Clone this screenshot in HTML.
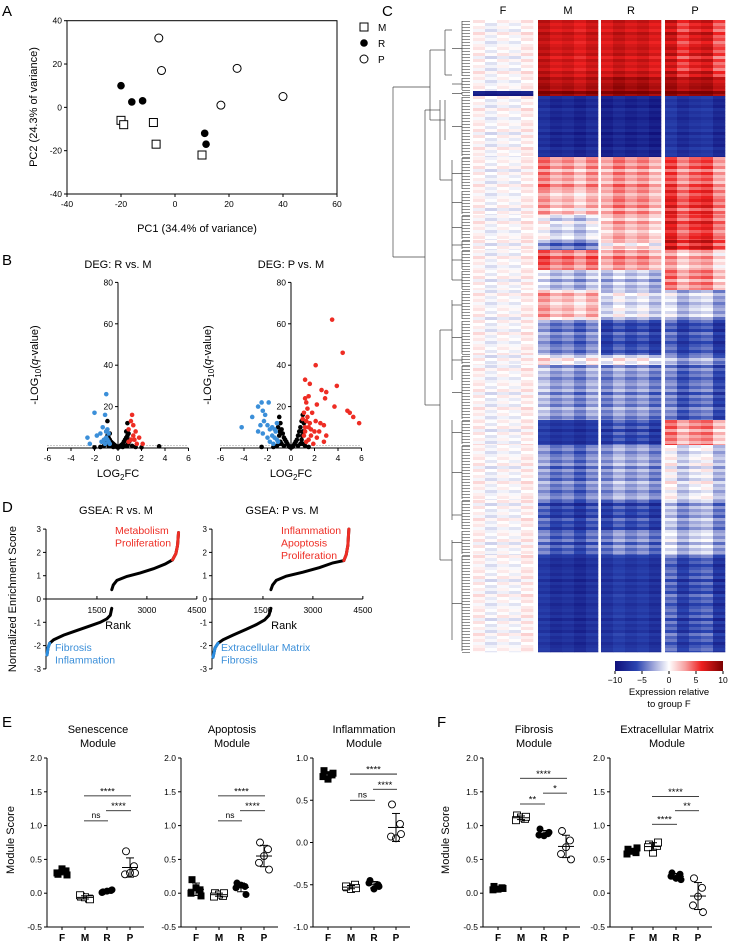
<!DOCTYPE html>
<html><head><meta charset="utf-8"><style>
body{margin:0;background:#fff}
svg{display:block;font-family:"Liberation Sans",sans-serif}
</style></head><body>
<svg id="fig" width="729" height="944" viewBox="0 0 729 944">
<g id="A"></g>
<g id="B"></g>
<g id="C"></g>
<g id="D"></g>
<g id="E"></g>
</svg>
<script>
// ---------- DATA ----------
const pcaM=[[-20,-6],[-19,-8],[-8,-7],[-7,-17],[10,-22]];
const pcaR=[[-20,10],[-16,2.5],[-12,3],[11,-12],[11.5,-17]];
const pcaP=[[-6,32],[-5,17],[17,1],[23,18],[40,5]];

const volRblue=[[-1.0,26],[-2.0,17],[-1.1,16],[-1.3,10],[-0.9,9],[-1.0,8],[-0.8,7],[-2.6,5],[-1.8,6],[-2.4,2],[-1.2,4],[-1.4,3],[-0.9,4],[-1.1,2],[-0.8,3],[-1.5,7],[-1.0,5],[-0.7,2]];
const volRred=[[1.2,16],[1.1,13],[1.3,11],[0.9,9],[1.5,8],[1.8,5],[1.1,4],[1.4,4],[2.1,2],[0.9,3],[1.6,2],[1.3,6]];
const volRblack=[[-1.0,8],[-0.9,6],[-0.8,5],[-0.7,4],[-0.6,3],[-0.5,2.5],[-0.4,2],[-0.3,1.5],[-0.2,1],[-0.1,0.5],[0,0.2],[0.1,0.5],[0.2,1],[0.3,1.5],[0.4,2],[0.5,3],[0.6,4],[0.7,5],[0.8,6],[0.9,7],[-0.9,13],[0.8,12],[3.5,0.8],[-1.2,1],[-1.5,0.5],[-0.8,1],[0.8,1],[1.2,1],[1.5,0.5],[-0.6,1],[0.6,1],[-0.4,0.5],[0.4,0.5],[-0.95,3],[0.95,3],[-0.85,2],[0.85,2],[-1.0,4],[1.0,4],[-2.0,0.3],[2.0,0.3],[-0.7,7],[0.7,8]];
const volPblue=[[-4.2,10],[-2.5,22],[-2.8,20],[-2.4,18],[-3.3,15],[-1.9,22],[-2.2,16],[-2.3,13],[-2.6,11],[-2.0,11],[-1.8,9],[-2.8,8],[-2.4,7],[-1.6,6],[-1.4,5],[-1.8,3],[-1.2,4],[-1.5,2],[-2.0,5],[-1.3,8],[-1.1,3],[-1.6,10],[-1.2,12],[-1.4,9]];
const volPred=[[3.5,62],[4.4,46],[2.1,40],[3.9,30],[1.2,33],[2.6,28],[3.0,27],[1.6,31],[2.9,24],[1.5,25],[1.2,24],[2.2,21],[3.7,20],[4.8,18],[1.3,22],[5.0,17],[5.3,15],[1.8,17],[1.4,15],[2.5,12],[2.1,13],[2.8,11],[1.6,12],[1.2,10],[2.0,8],[2.4,8],[3.0,6],[1.7,6],[1.1,6],[2.8,3],[1.5,4],[1.3,3],[1.9,2],[5.8,12],[1.0,14],[1.4,19],[1.7,9],[2.2,5],[1.2,8],[1.1,17],[1.3,13],[1.5,10]];
const volPblack=[[-1.0,15],[-0.9,12],[-0.8,9],[-0.7,7],[-0.6,5],[-0.5,4],[-0.4,3],[-0.3,2],[-0.2,1],[-0.1,0.5],[0,0.2],[0.1,0.5],[0.2,1],[0.3,2],[0.4,3],[0.5,4],[0.6,6],[0.7,8],[0.8,10],[0.9,13],[1.0,16],[-1.1,10],[1.1,12],[-1.0,6],[1.0,8],[-0.9,3],[0.9,4],[-1.2,1],[1.2,1],[-2.5,0.5],[-0.8,2],[0.8,2],[-0.6,1],[0.6,1],[1.0,2],[-1.0,2],[0.95,6],[-0.95,8],[1.5,0.5],[-1.5,0.5]];

const gseaRneg=[[0,-2.4],[30,-2.1],[80,-1.9],[200,-1.75],[500,-1.55],[900,-1.35],[1300,-1.15],[1600,-1.0],[1800,-0.85],[1900,-0.7],[1945,-0.4]];
const gseaRpos=[[1945,0.4],[1990,0.6],[2100,0.8],[2400,0.97],[2800,1.12],[3200,1.3],[3550,1.5],[3770,1.68],[3870,1.95],[3920,2.3],[3950,2.85]];
const gseaPneg=[[0,-2.5],[60,-2.1],[150,-1.9],[300,-1.75],[600,-1.55],[1000,-1.3],[1300,-1.1],[1550,-0.9],[1680,-0.7],[1740,-0.4]];
const gseaPpos=[[1740,0.4],[1790,0.6],[1900,0.8],[2200,0.98],[2700,1.15],[3200,1.35],[3600,1.55],[3930,1.65],[4000,1.9],[4050,2.3],[4080,3.0]];

// heatmap blocks: yStart, yEnd, F, M, R, P
const hmBlocks=[[20,77,0,7,7,6],[77,91,0,8,8.5,8],[91,96,-9,9.5,9.5,9.5],[96,157,0,-8,-8.5,-7.5],[157,190,0,3,3,4],[190,215,0,2,3,5],[215,240,0,-1,2,5],[240,250,0,-4,1,6],[250,270,0,4,3,2],[270,290,0,-2,-2,3],[290,320,0,2,-1,-2],[320,355,0,-4,-6,-6],[355,365,0,0.5,0,-3],[365,420,0,-3,-3.5,-5],[420,445,0,-7,-6,3],[445,500,0,-4,-3,-1],[500,530,0,-6,-6,-3],[530,555,0,-5,-4,-2],[555,652,0,-7.5,-7,-6]];
const hmRowVar=[0.8,-0.6,0.3,-1.0,1.2,-0.2,0.5,-0.9,0.1,0.7,-0.4,1.0,-1.3];
const hmColVar=[0.6,-0.8,0.3,-0.4,0.9,1.0,-0.5,0.2,-1.1,0.4,-0.6,0.8,-0.3,0.5,-0.9,1.1,-0.7,0.4,0.9,-1.2];
const cbTicks=[-10,-5,0,5,10];

const groups=["F","M","R","P"];
const senF=[0.28,0.33,0.36,0.30,0.27],senM=[-0.05,-0.08,-0.06,-0.03,-0.09],senR=[0.02,0.04,0.03,0.01,0.05],senP=[0.62,0.40,0.30,0.28,0.30];
const apoF=[0.2,0.05,0.08,0.0,-0.04],apoM=[0.0,-0.04,-0.02,-0.05,0.0],apoR=[0.15,0.1,0.12,0.08,-0.02],apoP=[0.75,0.65,0.55,0.45,0.35];
const infF=[0.85,0.8,0.75,0.78,0.82],infM=[-0.53,-0.5,-0.55,-0.52,-0.54],infR=[-0.45,-0.5,-0.55,-0.48,-0.52],infP=[0.45,0.22,0.05,0.07,0.1];
const fibF=[0.1,0.08,0.06,0.05,0.07],fibM=[1.15,1.1,1.12,1.08,1.13],fibR=[0.95,0.88,0.85,0.86,0.9],fibP=[0.92,0.78,0.68,0.58,0.5];
const ecmF=[0.65,0.6,0.62,0.58,0.67],ecmM=[0.72,0.7,0.6,0.68,0.75],ecmR=[0.3,0.28,0.22,0.25,0.2],ecmP=[0.22,0.08,-0.05,-0.18,-0.28];
const senSig=[[1,3,1.44,"****"],[2,3,1.22,"****"],[1,2,1.07,"ns"]];
const apoSig=[[1,3,1.44,"****"],[2,3,1.22,"****"],[1,2,1.07,"ns"]];
const infSig=[[1,3,0.81,"****"],[2,3,0.63,"****"],[1,2,0.5,"ns"]];
const fibSig=[[1,3,1.7,"****"],[2,3,1.48,"*"],[1,2,1.32,"**"]];
const ecmSig=[[1,3,1.43,"****"],[2,3,1.22,"**"],[1,2,1.02,"****"]];
const ticks25=[-0.5,0,0.5,1.0,1.5,2.0];
const ticks11=[-1.0,-0.5,0,0.5,1.0];

// ---------- HELPERS ----------
const NS="http://www.w3.org/2000/svg";
function el(parent,tag,attrs,text){const e=document.createElementNS(NS,tag);for(const k in attrs)e.setAttribute(k,attrs[k]);if(text!==undefined)e.textContent=text;parent.appendChild(e);return e;}
function line(p,x1,y1,x2,y2,w,c){return el(p,"line",{x1,y1,x2,y2,stroke:c||"#000","stroke-width":w||1});}
function txt(p,x,y,s,size,anchor,extra){const e=el(p,"text",Object.assign({x,y,"font-size":size,"text-anchor":anchor||"middle"},extra||{}),s);return e;}
function letter(p,s,x,y){const t=txt(p,x,y,s,15,"start");}

// ---------- A ----------
(function(){
const g=document.getElementById("A");
letter(g,"A",2,16);
const X0=67,X1=337,Y0=194,Y1=20.7;
const sx=v=>X0+(v+40)*(X1-X0)/100, sy=v=>Y0-(v+40)*(Y0-Y1)/80;
const box=el(g,"rect",{x:X0,y:Y1,width:X1-X0,height:Y0-Y1,fill:"none",stroke:"#000","stroke-width":1});

[-40,-20,0,20,40,60].forEach(v=>{line(g,sx(v),Y0,sx(v),Y0+3);txt(g,sx(v),Y0+13,String(v),8.5);});
[-40,-20,0,20,40].forEach(v=>{line(g,X0-3,sy(v),X0,sy(v));txt(g,X0-5,sy(v)+3,String(v),8.5,"end");});
const xl=txt(g,197,232,"PC1 (34.4% of variance)",11);
const yl=txt(g,0,0,"PC2 (24.3% of variance)",11,"middle",{transform:"translate(37,107) rotate(-90)"});
pcaM.forEach(d=>{const r=el(g,"rect",{x:sx(d[0])-4,y:sy(d[1])-4,width:8,height:8,fill:"#fff",stroke:"#000","stroke-width":1});});
pcaR.forEach(d=>{const c=el(g,"circle",{cx:sx(d[0]),cy:sy(d[1]),r:3.8,fill:"#000"});});
pcaP.forEach(d=>{const c=el(g,"circle",{cx:sx(d[0]),cy:sy(d[1]),r:4,fill:"#fff",stroke:"#000","stroke-width":1});});
const lg=el(g,"g",{});
el(lg,"rect",{x:360,y:23,width:8,height:8,fill:"#fff",stroke:"#000"});txt(lg,378,31,"M",10,"start");
el(lg,"circle",{cx:364,cy:43,r:3.8,fill:"#000"});txt(lg,378,47,"R",10,"start");
el(lg,"circle",{cx:364,cy:59,r:4,fill:"#fff",stroke:"#000"});txt(lg,378,63,"P",10,"start");
})();

// ---------- B ----------
(function(){
const g=document.getElementById("B");
letter(g,"B",2,265);
function volcano(x0,title,blue,red,black,name){
 const gg=el(g,"g",{});
 const sx=v=>x0+v*11.75, sy=v=>448-v*2.07;
 txt(gg,x0,268,title,11);
 line(gg,sx(-6),448,sx(6),448);line(gg,x0,448,x0,sy(80));
 [-6,-4,-2,0,2,4,6].forEach(v=>{line(gg,sx(v),448,sx(v),451);txt(gg,sx(v),461,String(v),8.5);});
 [20,40,60,80].forEach(v=>{line(gg,x0-3,sy(v),x0,sy(v));txt(gg,x0-5,sy(v)+3,String(v),8.5,"end");});
 el(gg,"line",{x1:sx(-6),y1:sy(1.3),x2:sx(6),y2:sy(1.3),stroke:"#555","stroke-width":0.7,"stroke-dasharray":"1,2"});
 const xt=el(gg,"text",{x:x0,y:477,"font-size":11,"text-anchor":"middle"});xt.innerHTML='LOG<tspan font-size="8" dy="3">2</tspan><tspan dy="-3">FC</tspan>';
 
 const yt=el(gg,"text",{"font-size":11,"text-anchor":"middle",transform:`translate(${x0-80},365) rotate(-90)`});
 yt.innerHTML='-LOG<tspan font-size="8" dy="3">10</tspan><tspan dy="-3">(</tspan><tspan font-style="italic">q</tspan>-value)';
 
 black.forEach(d=>{const c=el(gg,"circle",{cx:sx(d[0]),cy:sy(d[1]),r:2.3,fill:"#000"});});
 blue.forEach(d=>{const c=el(gg,"circle",{cx:sx(d[0]),cy:sy(d[1]),r:2.3,fill:"#3b8fd9"});});
 red.forEach(d=>{const c=el(gg,"circle",{cx:sx(d[0]),cy:sy(d[1]),r:2.3,fill:"#ee2d24"});});
}
volcano(118,"DEG:  R vs. M",volRblue,volRred,volRblack,"volcano-r-vs-m");
volcano(291,"DEG:  P vs. M",volPblue,volPred,volPblack,"volcano-p-vs-m");
})();

// ---------- C ----------
(function(){
const g=document.getElementById("C");
letter(g,"C",382,16);
const groupX=[473,538,601,665];const colW=12;
groups.forEach((s,i)=>{const t=txt(g,groupX[i]+30,14,s,11);});
const stops=[[-10,[16,16,122]],[-6,[42,68,176]],[-3,[154,162,216]],[0,[255,255,255]],[3,[247,160,160]],[6,[238,32,32]],[10,[122,0,0]]];
function col(v){v=Math.max(-10,Math.min(10,v));for(let i=0;i<stops.length-1;i++){const a=stops[i],b=stops[i+1];if(v<=b[0]){const t=(v-a[0])/(b[0]-a[0]);return "rgb("+a[1].map((c,k)=>Math.round(c+(b[1][k]-c)*t)).join(",")+")";}}return "rgb(122,0,0)";}
const hm=el(g,"g",{});
const dg=el(g,"g",{stroke:"#444","stroke-width":0.7,fill:"none"});
let ri=0;
hmBlocks.forEach(b=>{
 for(let y=b[0];y<b[1];y+=3){
  const h=Math.min(3,b[1]-y);const rv=hmRowVar[ri%hmRowVar.length];ri++;
  for(let gi=0;gi<4;gi++){const m=b[2+gi];
   for(let c=0;c<5;c++){const ci=gi*5+c;const scale=gi===0?(Math.abs(m)>6?0.3:0.7):(Math.abs(m)>6?0.6:1.1);
    const v=m+(rv+hmColVar[ci])*scale;
    const r=el(hm,"rect",{x:groupX[gi]+c*colW,y:y,width:colW+0.3,height:h+0.3,fill:col(v)});
    }
  }
  line(dg,462,y+1.5,470,y+1.5,0.6,"#444");
 }
 line(dg,462,b[0]+1,462,b[1]-1,0.7,"#444");
 line(dg,452,(b[0]+b[1])/2,462,(b[0]+b[1])/2,0.7,"#444");
});
[[393,87,393,257],[393,87,430,87],[393,257,425,257],[430,50,430,120],[430,50,445,50],[430,120,445,120],[425,110,425,405],[425,110,440,110],[425,405,440,405],[440,100,440,180],[440,330,440,560],[445,30,445,75],[445,100,445,140],[440,180,452,180],[440,330,452,330],[440,560,452,560],[452,160,452,280],[452,300,452,380],[452,420,452,520],[452,540,452,640],[445,30,452,30],[445,75,452,75]].forEach(l=>line(dg,l[0],l[1],l[2],l[3],0.7,"#444"));
const cb=el(g,"g",{});
const defs=el(cb,"defs",{});const lgd=el(defs,"linearGradient",{id:"cbg",x1:0,x2:1,y1:0,y2:0});
stops.forEach(s=>el(lgd,"stop",{offset:((s[0]+10)/20*100)+"%","stop-color":col(s[0])}));
const cx0=615,cx1=723;
el(cb,"rect",{x:cx0,y:661,width:cx1-cx0,height:10,fill:"url(#cbg)"});
cbTicks.forEach(v=>{const x=cx0+(v+10)/20*(cx1-cx0);line(cb,x,671,x,674);txt(cb,x,683,(v<0?"\u2212"+(-v):String(v)),8.5);});
txt(cb,669,695,"Expression relative",9.5);txt(cb,669,707,"to group F",9.5);
})();

// ---------- D ----------
(function(){
const g=document.getElementById("D");
letter(g,"D",2,512);
const sy=v=>599-v*23.3;
function gsea(x0,title,neg,pos,redStart,blueEnd,redLab,blueLab,name){
 const gg=el(g,"g",{});
 const sx=r=>x0+1+r*0.0333;
 txt(gg,x0+70,514,title,11);
 line(gg,x0,sy(3),x0,sy(-3));line(gg,x0,599,sx(4500),599);
 [3,2,1,0,-1,-2,-3].forEach(v=>{line(gg,x0-3,sy(v),x0,sy(v));txt(gg,x0-5,sy(v)+3,String(v),8,"end");});
 [1500,3000,4500].forEach(v=>{line(gg,sx(v),596,sx(v),599);txt(gg,sx(v),613,String(v),8.5);});
 txt(gg,x0+72,629,"Rank",11);
 const pl=(pts,c)=>{const p=el(gg,"polyline",{points:pts.map(d=>sx(d[0])+","+sy(d[1])).join(" "),fill:"none",stroke:c,"stroke-width":3,"stroke-linecap":"round"});return p;};
 const n1=pl(neg,"#000");
 const p1=pl(pos,"#000");
 const b=pl(neg.filter(d=>d[0]<=blueEnd),"#2b8de0");
 const r=pl(pos.filter(d=>d[0]>=redStart),"#ee2d24");
 redLab.forEach((s,i)=>txt(gg,x0+69,534+i*12.5,s,10.5,"start",{fill:"#ee2d24"}));
 blueLab.forEach((s,i)=>txt(gg,x0+9,651+i*12.5,s,10.5,"start",{fill:"#3b8fd9"}));
}
gsea(46,"GSEA:  R vs. M",gseaRneg,gseaRpos,3770,80,["Metabolism","Proliferation"],["Fibrosis","Inflammation"],"gsea-r-vs-m");
gsea(212,"GSEA:  P vs. M",gseaPneg,gseaPpos,3930,150,["Inflammation","Apoptosis","Proliferation"],["Extracellular Matrix","Fibrosis"],"gsea-p-vs-m");
const yt=txt(g,0,0,"Normalized Enrichment Score",11,"middle",{transform:"translate(16,599) rotate(-90)"});

})();

// ---------- E/F ----------
(function(){
const g=document.getElementById("E");
letter(g,"E",2,727);letter(g,"F",437,727);
const YT=758,YB=927;
function mod(ax,gx,title,lo,hi,ticks,data,sig,name){
 const gg=el(g,"g",{});
 const sy=v=>YB-(v-lo)/(hi-lo)*(YB-YT);
 const cx=gx[0]+(gx[3]-gx[0])/2+2;
 title.forEach((s,i)=>txt(gg,cx,733+i*14,s,11));
 line(gg,ax,YT,ax,YB);line(gg,ax,YB,gx[3]+14,YB);
 ticks.forEach(v=>{line(gg,ax-3,sy(v),ax,sy(v));txt(gg,ax-5,sy(v)+3,v.toFixed(1),8.5,"end");});
 groups.forEach((s,i)=>{line(gg,gx[i],YB,gx[i],YB+3);txt(gg,gx[i],941,s,10,"middle",{"font-weight":"bold"});});
 const jit=[-4,4,0,-5,5];
 data.forEach((arr,i)=>{
  const mean=arr.reduce((a,b)=>a+b,0)/arr.length;const sd=Math.sqrt(arr.reduce((a,b)=>a+(b-mean)*(b-mean),0)/(arr.length-1));
  arr.forEach((v,j)=>{const x=gx[i]+jit[j],y=sy(v);let m;
   if(i===0)m=el(gg,"rect",{x:x-3.5,y:y-3.5,width:7,height:7,fill:"#000"});
   else if(i===1)m=el(gg,"rect",{x:x-3.5,y:y-3.5,width:7,height:7,fill:"#fff",stroke:"#000","stroke-width":0.9});
   else if(i===2)m=el(gg,"circle",{cx:x,cy:y,r:3.5,fill:"#000"});
   else m=el(gg,"circle",{cx:x,cy:y,r:3.5,fill:"none",stroke:"#000","stroke-width":0.9});
   });
  line(gg,gx[i]-8,sy(mean),gx[i]+8,sy(mean),1);
  line(gg,gx[i],sy(mean-sd),gx[i],sy(mean+sd),1);
  line(gg,gx[i]-4,sy(mean+sd),gx[i]+4,sy(mean+sd),1);line(gg,gx[i]-4,sy(mean-sd),gx[i]+4,sy(mean-sd),1);
 });
 sig.forEach(s=>{const y=sy(s[2]);const b=line(gg,gx[s[0]]-1,y,gx[s[1]]+1,y,0.8);
  txt(gg,(gx[s[0]]+gx[s[1]])/2,y-(s[3]==="ns"?3:1.5),s[3],s[3]==="ns"?8.5:9.5);});
}
mod(47,[62,85,107,130],["Senescence","Module"],-0.5,2.0,ticks25,[senF,senM,senR,senP],senSig,"senescence-module");
mod(181,[196,219,241,264],["Apoptosis","Module"],-0.5,2.0,ticks25,[apoF,apoM,apoR,apoP],apoSig,"apoptosis-module");
mod(313,[328,351,374,396],["Inflammation","Module"],-1.0,1.0,ticks11,[infF,infM,infR,infP],infSig,"inflammation-module");
mod(483,[498,521,544,566],["Fibrosis","Module"],-0.5,2.0,ticks25,[fibF,fibM,fibR,fibP],fibSig,"fibrosis-module");
mod(610,[632,653,676,698],["Extracellular Matrix","Module"],-0.5,2.0,ticks25,[ecmF,ecmM,ecmR,ecmP],ecmSig,"ecm-module");
const y1=txt(g,0,0,"Module Score",11,"middle",{transform:"translate(14,840) rotate(-90)"});
const y2=txt(g,0,0,"Module Score",11,"middle",{transform:"translate(449,840) rotate(-90)"});
})();
</script>
</body></html>
